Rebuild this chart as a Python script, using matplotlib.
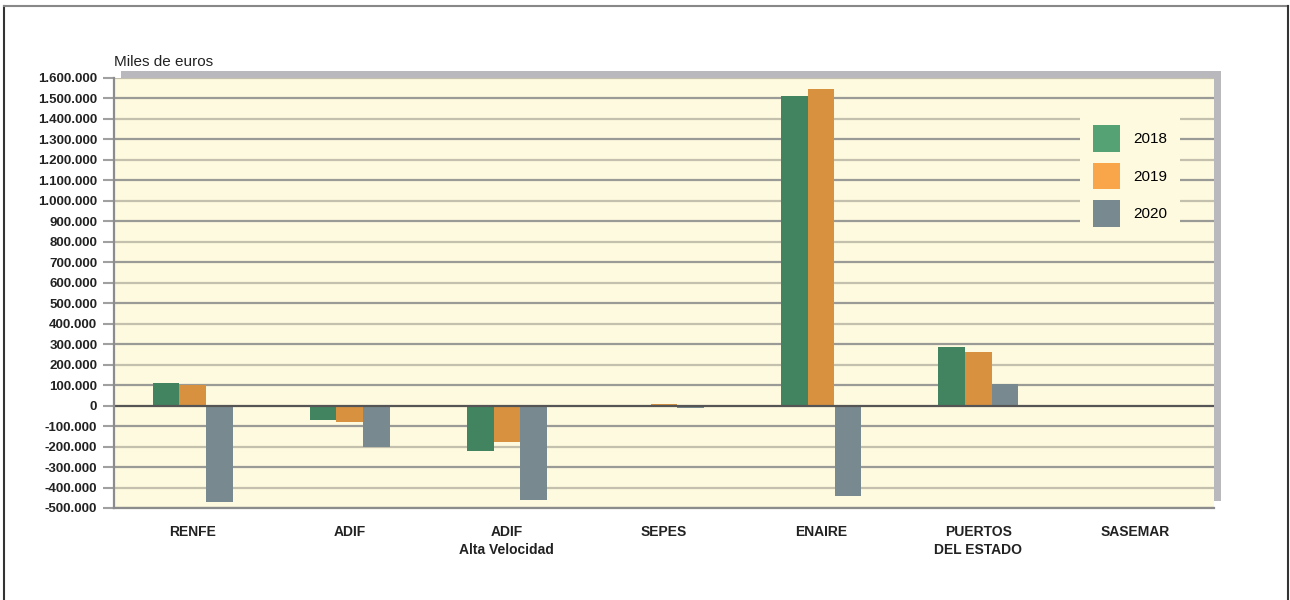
import matplotlib
matplotlib.use('Agg')
import matplotlib.pyplot as plt
import numpy as np
from matplotlib.patches import Rectangle, Patch
from matplotlib.lines import Line2D
from matplotlib.transforms import ScaledTranslation

plt.rcParams['font.family'] = ['Liberation Sans', 'DejaVu Sans']

# data (miles de euros)
companies = ['RENFE', 'ADIF', 'ADIF\nAlta Velocidad', 'SEPES', 'ENAIRE',
             'PUERTOS\nDEL ESTADO', 'SASEMAR']
years = ['2018', '2019', '2020']
vals_2018 = [112000, -68000, -223000, 2000, 1514000, 288000, -2000]
vals_2019 = [102000, -81000, -179000, 8000, 1544000, 264000, 3000]
vals_2020 = [-472000, -200000, -462000, -14000, -440000, 107000, -8000]
yticks = list(range(-500000, 1600001, 100000))

bar_colors = ['#41845F', '#D8913F', '#788A8F']
legend_colors = ['#55A375', '#F9A54A', '#788A8F']
bg = '#FEFADF'

fig = plt.figure(figsize=(12.9, 6), dpi=100)
ax = fig.add_axes([114/1290, 92/600, 1100/1290, 430/600])
ax.set_facecolor(bg)

# shadow behind plot area
shadow = Rectangle((0, 0), 1, 1, transform=ax.transAxes + ScaledTranslation(7/100, 7/100, fig.dpi_scale_trans),
                   facecolor='#B9B9BD', edgecolor='none', zorder=-1)
fig.add_artist(shadow)

# frame around figure (left, top, right)
fig.add_artist(Line2D([4/1290, 4/1290], [0, 1 - 6/600], color='#333333', lw=1.5))
fig.add_artist(Line2D([4/1290, 1288/1290], [1 - 6/600, 1 - 6/600], color='#888888', lw=1.5))
fig.add_artist(Line2D([1288/1290, 1288/1290], [0, 1 - 6/600], color='#333333', lw=1.5))

# grid lines, alternating tone
for i, t in enumerate(yticks):
    if t == 0:
        continue
    c = '#9A9A96' if i % 2 == 0 else '#C3C1AE'
    ax.axhline(t, color=c, lw=1.6, zorder=1)
ax.axhline(0, color='#555555', lw=1.6, zorder=3)

x = np.arange(len(companies))
w = 0.17
for k, (vals, col) in enumerate(zip([vals_2018, vals_2019, vals_2020], bar_colors)):
    ax.bar(x + (k - 1) * w, vals, width=w, color=col, zorder=2)

ax.set_xlim(-0.5, 6.5)
ax.set_ylim(-500000, 1600000)
ax.set_yticks(yticks)
ax.set_yticklabels(['{:,}'.format(t).replace(',', '.') for t in yticks],
                   fontsize=9.5, fontweight='bold', color='#222222')
ax.set_xticks(x)
ax.set_xticklabels(companies, fontsize=10, fontweight='bold', color='#222222', linespacing=1.35)
ax.tick_params(axis='y', length=8, width=1.5, color='#A0A0A0', pad=4)
ax.tick_params(axis='x', length=0, pad=12)
for s in ['top', 'right']:
    ax.spines[s].set_visible(False)
for s in ['left', 'bottom']:
    ax.spines[s].set_color('#8C8C8C')
    ax.spines[s].set_linewidth(1.6)
    ax.spines[s].set_zorder(4)

handles = [Patch(facecolor=c, edgecolor='none') for c in legend_colors]
leg = ax.legend(handles, years, loc='upper left', bbox_to_anchor=(966/1100, 1 - 34/430),
                fontsize=11, frameon=True, fancybox=False, facecolor=bg, edgecolor='none',
                framealpha=1, handlelength=1.77, handleheight=2.34, labelspacing=0.69,
                handletextpad=0.85, borderpad=0.85, borderaxespad=0)
leg.set_zorder(5)

fig.text(114/1290, 1 - 66/600, 'Miles de euros', fontsize=11, color='#222222')

plt.savefig('out.png', dpi=100)
